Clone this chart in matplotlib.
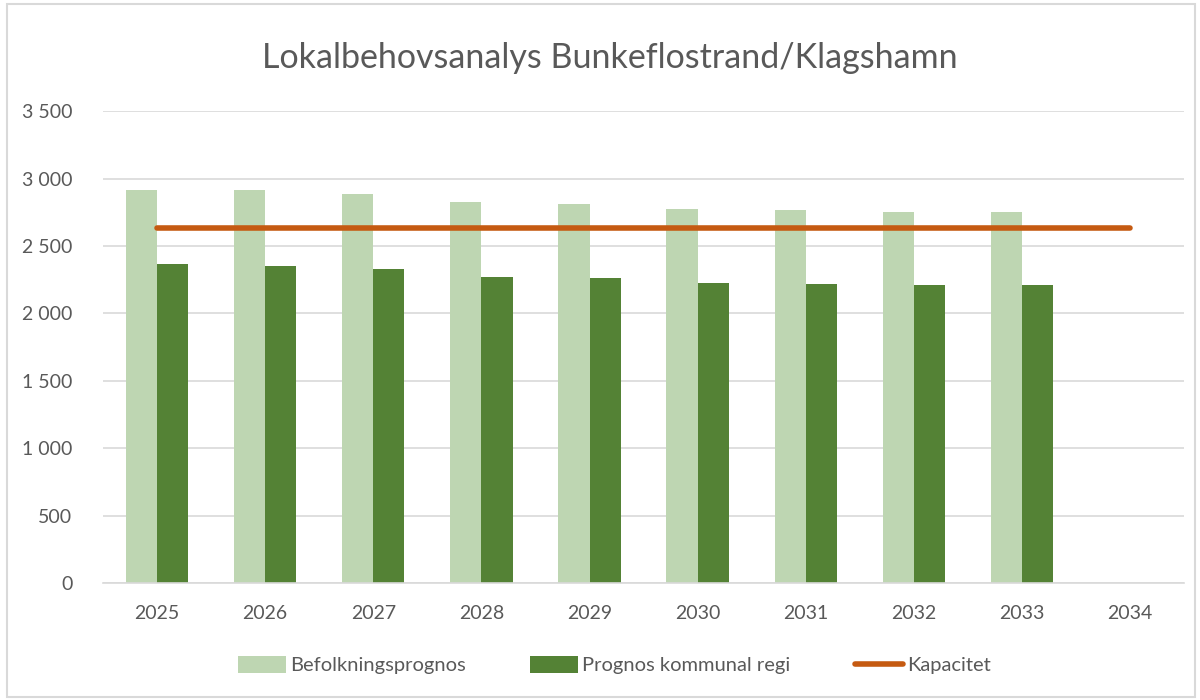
import matplotlib
matplotlib.use("Agg")
import matplotlib.pyplot as plt
import numpy as np
from matplotlib.ticker import FuncFormatter
from matplotlib.patches import Rectangle

years = ["2025", "2026", "2027", "2028", "2029", "2030", "2031", "2032", "2033", "2034"]
befolkning = [2918, 2913, 2889, 2827, 2809, 2775, 2765, 2755, 2750, None]
kommunal = [2366, 2354, 2332, 2272, 2260, 2228, 2220, 2213, 2208, None]
kapacitet = [2636] * 10

plt.rcParams['font.family'] = ['Lato', 'DejaVu Sans']

fig = plt.figure(figsize=(12, 7), dpi=100)
ax = fig.add_axes([0.0858, 0.167, 0.901, 0.674])

x = np.arange(len(years))
w = 0.288
bx = [i for i, v in enumerate(befolkning) if v is not None]
h1 = ax.bar(np.array(bx) - w / 2, [befolkning[i] for i in bx], width=w, color="#BED6B2",
            label="Befolkningsprognos", zorder=2)
h2 = ax.bar(np.array(bx) + w / 2, [kommunal[i] for i in bx], width=w, color="#548235",
            label="Prognos kommunal regi", zorder=2)
h3, = ax.plot(x, kapacitet, color="#C55A11", linewidth=4, solid_capstyle="round",
              label="Kapacitet", zorder=3)

ax.set_xlim(-0.5, len(years) - 0.5)
ax.set_ylim(0, 3500)
ax.set_yticks(np.arange(0, 3501, 500))
ax.yaxis.set_major_formatter(FuncFormatter(lambda v, p: f"{int(v):,}".replace(",", " ")))
ax.set_xticks(x)
ax.set_xticklabels(years)
ax.grid(axis="y", color="#D9D9D9", linewidth=1.2, zorder=0)
ax.set_axisbelow(True)
for s in ["top", "right", "left"]:
    ax.spines[s].set_visible(False)
ax.spines["bottom"].set_color("#D9D9D9")
ax.spines["bottom"].set_linewidth(1.2)
ax.tick_params(axis="both", length=0, labelsize=14, colors="#595959")
ax.tick_params(axis="y", pad=22)
ax.tick_params(axis="x", pad=16)

fig.text(0.508, 0.917, "Lokalbehovsanalys Bunkeflostrand/Klagshamn", ha="center",
         va="center", fontsize=24.5, color="#595959")

leg = fig.legend([h1, h2, h3], ["Befolkningsprognos", "Prognos kommunal regi", "Kapacitet"],
                 loc="center", bbox_to_anchor=(0.512, 0.05), ncol=3, frameon=False,
                 fontsize=14.5, handlelength=2.4, handleheight=0.9, columnspacing=3.2,
                 handletextpad=0.2, labelcolor="#595959")

fig.patches.append(Rectangle((0.006, 0.004), 0.99, 0.99, transform=fig.transFigure,
                             fill=False, edgecolor="#D9D9D9", linewidth=1.5))

fig.savefig("out.png", dpi=100, facecolor="white")
